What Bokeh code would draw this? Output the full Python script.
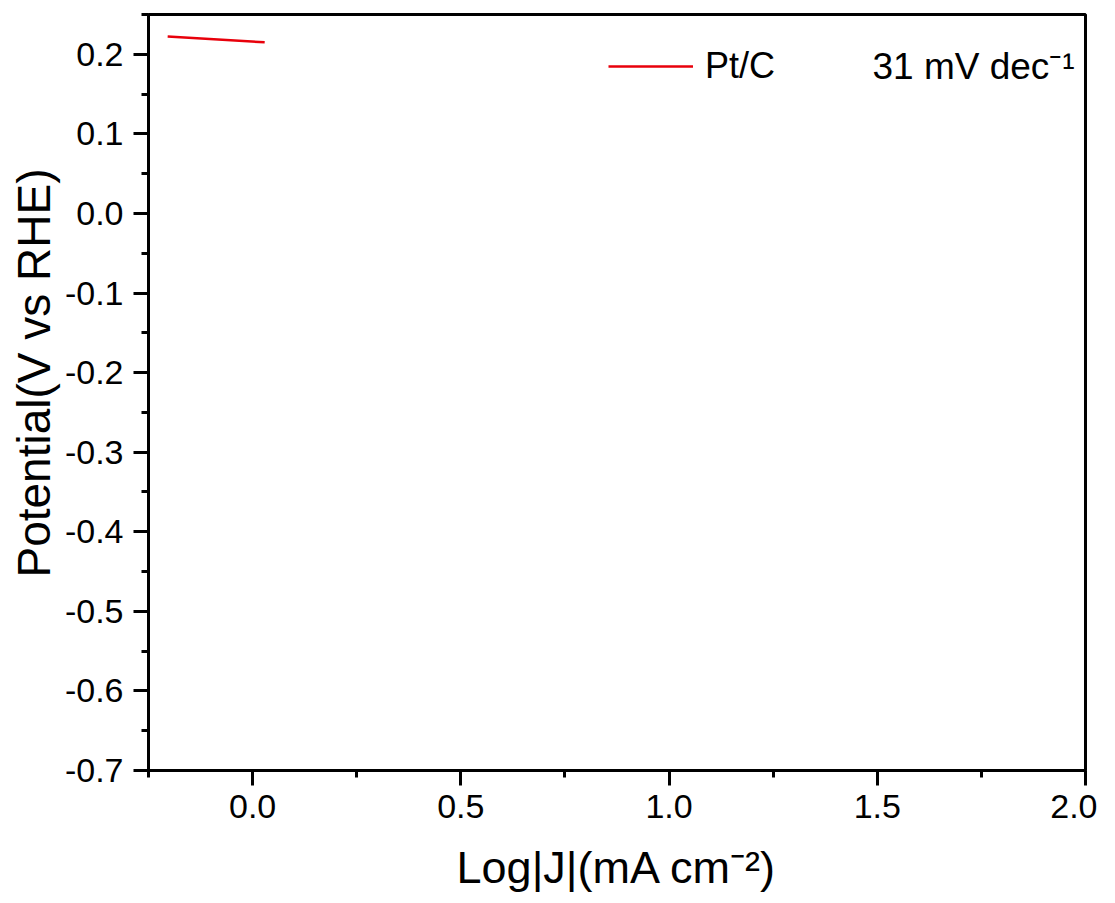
import numpy as np
from bokeh.plotting import figure
from bokeh.models import FixedTicker, Label, Legend, LegendItem, Range1d, Title
from bokeh.embed import file_html
from bokeh.resources import INLINE

# ---- data ----
ptc_x = [-0.204, 0.029]
ptc_y = [0.2225, 0.2150]
series_name = "Pt/C"
slope_text = "31 mV dec\u207b\u00b9"

x_ticks = [0.0, 0.5, 1.0, 1.5, 2.0]
x_tick_labels = ["0.0", "0.5", "1.0", "1.5", "2.0"]
y_ticks = [-0.7, -0.6, -0.5, -0.4, -0.3, -0.2, -0.1, 0.0, 0.1, 0.2]
y_tick_labels = ["-0.7", "-0.6", "-0.5", "-0.4", "-0.3", "-0.2", "-0.1", "0.0", "0.1", "0.2"]
x_range = (-0.25, 2.0)
y_range = (-0.7, 0.25)
x_title = "Log|J|(mA cm\u207b\u00b2)"
y_title = "Potential(V vs RHE)"

FONT = "Liberation Sans"

p = figure(frame_width=937, frame_height=756,
           min_border_left=148, min_border_right=12,
           min_border_top=14, min_border_bottom=110,
           x_range=Range1d(*x_range), y_range=Range1d(*y_range),
           output_backend="svg", toolbar_location=None)
p.grid.visible = False
p.background_fill_color = "white"
p.border_fill_color = "white"
p.outline_line_color = "black"
p.outline_line_width = 3

x_minor = list(np.arange(-0.25, 2.0, 0.25))
y_minor = list(np.round(np.arange(-0.7, 0.2501, 0.05), 3))
p.xaxis.ticker = FixedTicker(ticks=x_ticks, minor_ticks=x_minor)
p.yaxis.ticker = FixedTicker(ticks=y_ticks, minor_ticks=y_minor)
p.xaxis.major_label_overrides = {t: l for t, l in zip(x_ticks, x_tick_labels)}
p.yaxis.major_label_overrides = {t: l for t, l in zip(y_ticks, y_tick_labels)}

for ax in (p.xaxis, p.yaxis):
    ax.axis_line_width = 3
    ax.axis_line_color = "black"
    ax.major_tick_line_width = 3
    ax.minor_tick_line_width = 3
    ax.major_tick_out = 15
    ax.major_tick_in = 0
    ax.minor_tick_out = 7
    ax.minor_tick_in = 0
    ax.major_label_text_font = FONT
    ax.major_label_text_font_size = "34px"
    ax.major_label_text_color = "black"
    ax.axis_label_text_font = FONT
    ax.axis_label_text_font_style = "normal"
    ax.axis_label_text_color = "black"

p.xaxis.axis_label = x_title
p.xaxis.axis_label_text_font_size = "45px"
p.xaxis.major_label_standoff = 9
p.yaxis.major_label_standoff = 10
p.xaxis.axis_label_standoff = 21

# y title as a side title so it can sit slightly above the frame centre
p.add_layout(Title(text=y_title, align="right", offset=154, standoff=4,
                   text_font=FONT, text_font_size="46px",
                   text_font_style="normal", text_color="black"), "left")

r = p.line(ptc_x, ptc_y, line_color="#e8000b", line_width=2.5)

legend = Legend(items=[LegendItem(label=series_name, renderers=[r])],
                location=(460, 679), padding=0, margin=0,
                glyph_width=85, glyph_height=50, label_height=50,
                label_standoff=12, border_line_alpha=0,
                background_fill_alpha=0,
                label_text_font=FONT, label_text_font_size="36px",
                label_text_color="black")
p.add_layout(legend)

p.add_layout(Label(x=724, y=704, x_units="screen", y_units="screen",
                   text=slope_text, text_font=FONT, text_font_size="37px",
                   text_baseline="middle", text_color="black"))

open("out.html", "w").write(file_html(p, INLINE))
